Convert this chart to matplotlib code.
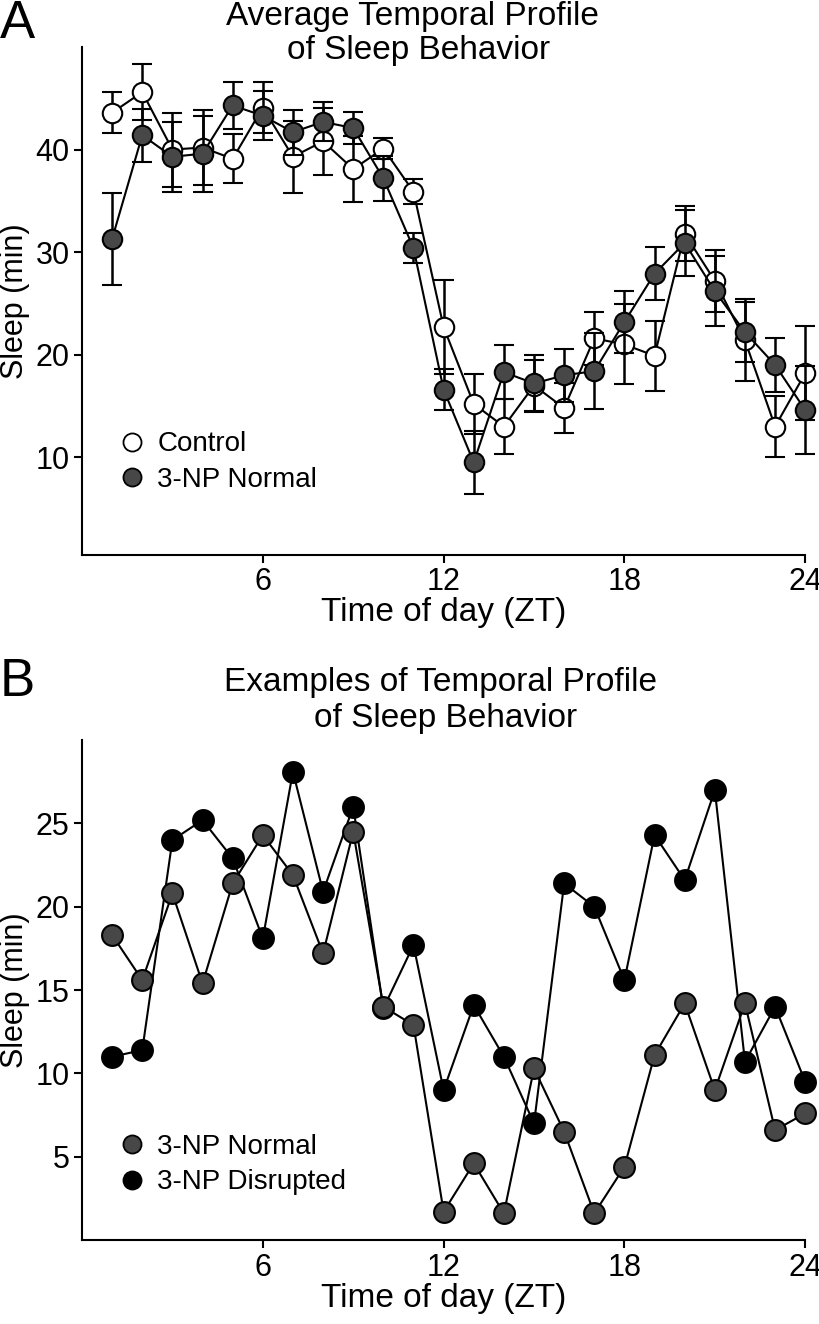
import numpy as np
import matplotlib
matplotlib.use("Agg")
import matplotlib.pyplot as plt
from matplotlib.lines import Line2D

plt.rcParams["font.family"] = ["Liberation Sans", "DejaVu Sans"]

# data
zt = np.arange(1, 25)

control_mean = [43.6, 45.6, 40.0, 40.2, 39.1, 44.1, 39.3, 40.8, 38.1, 40.1, 35.9, 22.7,
                15.2, 13.0, 17.0, 14.8, 21.6, 21.0, 19.9, 31.8, 27.2, 21.4, 13.0, 18.2]
control_sem = [2.0, 2.7, 3.6, 3.7, 2.4, 2.5, 3.5, 3.3, 3.2, 1.0, 1.2, 4.6,
               2.9, 2.7, 2.5, 2.4, 2.6, 3.9, 3.4, 2.7, 3.0, 4.0, 3.0, 4.6]
np_mean = [31.3, 41.4, 39.3, 39.6, 44.3, 43.3, 41.7, 42.7, 42.1, 37.2, 30.4, 16.6,
           9.5, 18.3, 17.2, 18.0, 18.4, 23.2, 27.9, 30.9, 26.2, 22.2, 19.0, 14.6]
np_sem = [4.5, 2.6, 3.4, 3.7, 2.3, 2.4, 2.2, 1.9, 1.6, 2.2, 1.5, 2.0,
          3.1, 2.6, 2.8, 2.6, 3.7, 3.0, 2.6, 3.2, 3.4, 2.9, 2.6, 4.3]

ex_normal = [18.3, 15.6, 20.8, 15.4, 21.4, 24.3, 21.9, 17.2, 24.5, 14.0, 12.9, 1.7,
             4.6, 1.6, 10.3, 6.5, 1.6, 4.4, 11.1, 14.2, 9.0, 14.2, 6.6, 7.6]
ex_disrupted = [11.0, 11.4, 24.0, 25.2, 22.9, 18.1, 28.1, 20.9, 26.0, 13.9, 17.7, 9.0,
                14.1, 11.0, 7.0, 21.4, 20.0, 15.6, 24.3, 21.6, 27.0, 10.7, 14.0, 9.5]

xticks = [6, 12, 18, 24]
gray = "#474747"

fig = plt.figure(figsize=(8.2, 13.24), dpi=100)
ax1 = fig.add_axes([0.1, 0.581, 0.882, 0.3835])
ax2 = fig.add_axes([0.1, 0.0634, 0.882, 0.3776])


def style(ax, ylim, yticks):
    ax.set_xlim(0, 24)
    ax.set_ylim(*ylim)
    ax.set_xticks(xticks)
    ax.set_yticks(yticks)
    ax.spines["top"].set_visible(False)
    ax.spines["right"].set_visible(False)
    for s in ("left", "bottom"):
        ax.spines[s].set_linewidth(1.5)
    ax.tick_params(direction="out", length=6, width=1.5, labelsize=22, pad=3)
    ax.set_xlabel("Time of day (ZT)", fontsize=24, labelpad=0)
    ax.set_ylabel("Sleep (min)", fontsize=22, labelpad=4)


# panel A
ax1.errorbar(zt, control_mean, yerr=control_sem, color="black", lw=1.5,
             elinewidth=1.8, capsize=7, capthick=1.8, marker="o", ms=14,
             mfc="white", mec="black", mew=1.5, zorder=2, clip_on=False)
ax1.errorbar(zt, np_mean, yerr=np_sem, color="black", lw=1.5,
             elinewidth=1.8, capsize=7, capthick=1.8, marker="o", ms=14,
             mfc=gray, mec="black", mew=1.5, zorder=3, clip_on=False)
style(ax1, (0.5, 50), [10, 20, 30, 40])
hA = [Line2D([], [], ls="none", marker="o", ms=13, mfc="white", mec="black", mew=1.3),
      Line2D([], [], ls="none", marker="o", ms=13, mfc=gray, mec="black", mew=1.3)]
ax1.legend(hA, ["Control", "3-NP Normal"], loc="upper left",
           bbox_to_anchor=(0.035, 0.265), frameon=False, fontsize=20,
           handlelength=1.0, handletextpad=0.4, labelspacing=0.35, borderaxespad=0)

# panel B
ax2.plot(zt, ex_disrupted, color="black", lw=1.5, marker="o", ms=15,
         mfc="black", mec="black", mew=1.5, zorder=2, clip_on=False)
ax2.plot(zt, ex_normal, color="black", lw=1.5, marker="o", ms=15,
         mfc=gray, mec="black", mew=1.5, zorder=3, clip_on=False)
style(ax2, (0, 30), [5, 10, 15, 20, 25])
hB = [Line2D([], [], ls="none", marker="o", ms=13, mfc=gray, mec="black", mew=1.3),
      Line2D([], [], ls="none", marker="o", ms=13, mfc="black", mec="black", mew=1.3)]
ax2.legend(hB, ["3-NP Normal", "3-NP Disrupted"], loc="upper left",
           bbox_to_anchor=(0.035, 0.235), frameon=False, fontsize=20,
           handlelength=1.0, handletextpad=0.4, labelspacing=0.35, borderaxespad=0)

# titles and panel letters
fig.text(0.503, 1 - 16 / 1324, "Average Temporal Profile", ha="center", va="center", fontsize=24)
fig.text(0.51, 1 - 50 / 1324, "of Sleep Behavior", ha="center", va="center", fontsize=24)
fig.text(0.537, 1 - 683 / 1324, "Examples of Temporal Profile", ha="center", va="center", fontsize=24)
fig.text(0.543, 1 - 718 / 1324, "of Sleep Behavior", ha="center", va="center", fontsize=24)
fig.text(0.0, 1 - 24 / 1324, "A", ha="left", va="center", fontsize=38)
fig.text(0.0, 1 - 682 / 1324, "B", ha="left", va="center", fontsize=38)

fig.savefig("out.png", dpi=100)
